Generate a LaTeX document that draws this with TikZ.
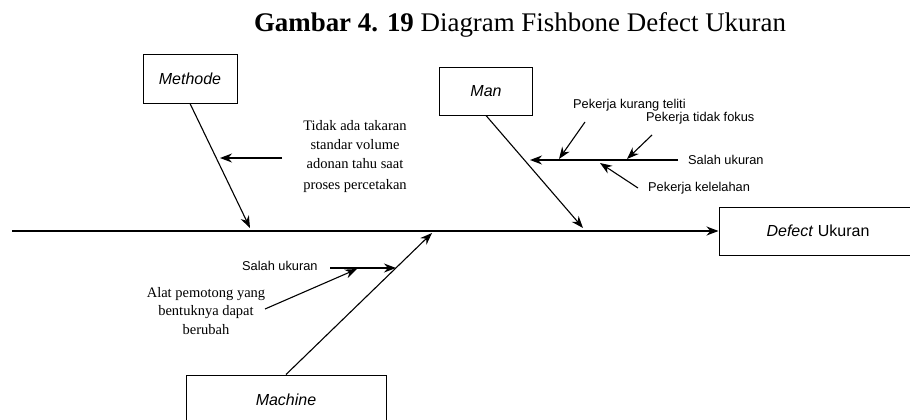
\documentclass[tikz,border=0pt]{standalone}
\usepackage{fontspec}
\setmainfont{Liberation Serif}
\setsansfont{Liberation Sans}
\usetikzlibrary{arrows.meta}

\begin{document}
\begin{tikzpicture}[x=1pt,y=-1pt,
  catbox/.style={draw, line width=1pt, inner sep=0pt,
    font=\sffamily\fontsize{16}{19}\selectfont},
  spine/.style={line width=1.5pt, -{Stealth[length=12pt,width=9pt]}},
  bone/.style={line width=1.1pt, -{Stealth[length=12pt,width=9pt]}},
  sanslabel/.style={inner sep=0pt, font=\sffamily\fontsize{12.8}{15}\selectfont},
  seriflabel/.style={inner sep=0pt, align=center, font=\fontsize{14.5}{19}\selectfont},
]
\useasboundingbox (0,0) rectangle (910,420);

% title
\node[inner sep=0pt, font=\fontsize{26.9}{30}\selectfont] (title) at (520,25)
  {\textbf{Gambar 4. 19} Diagram Fishbone Defect Ukuran};

% category boxes and the effect box
\node[catbox, minimum width=94pt, minimum height=48pt] (methode) at (190,79) {\textit{Methode}};
\node[catbox, minimum width=93pt, minimum height=47pt] (man) at (486,91.5) {\textit{Man}};
\node[catbox, minimum width=200pt, minimum height=50pt] (machine) at (286,400) {\textit{Machine}};
\node[catbox, minimum width=198pt, minimum height=48pt] (defect) at (818,231) {\textit{Defect} Ukuran};

% main spine
\coordinate (tail) at (12,231);
\draw[spine] (tail) -- (defect.west);

% main bones
\coordinate (mtip) at (250,228);
\coordinate (ntip) at (583,228);
\coordinate (ctip) at (432,233);
\draw[bone] (methode.south) -- (mtip);
\draw[bone] (man.south) -- (ntip);
\draw[bone] (machine.north) -- (ctip);

% Methode cause
\node[seriflabel] (takaran) at (355,157)
  {Tidak ada takaran\\standar volume\\adonan tahu saat\\[2pt]proses percetakan};
\coordinate (t1) at (282,158);
\coordinate (t2) at (220,158);
\draw[bone] (t1) -- (t2);

% Man causes
\node[sanslabel, anchor=west] (salah1) at (688,160) {Salah ukuran};
\node[sanslabel, anchor=west] (teliti) at (573,105) {Pekerja kurang teliti};
\node[sanslabel, anchor=west] (fokus) at (646,118) {Pekerja tidak fokus};
\node[sanslabel, anchor=west] (lelah) at (648,188) {Pekerja kelelahan};
\coordinate (s1a) at (678,160);
\coordinate (s1b) at (530,160);
\draw[bone] (s1a) -- (s1b);
\coordinate (k1) at (585,122);
\coordinate (k2) at (559,159);
\draw[bone] (k1) -- (k2);
\coordinate (f1) at (652,135);
\coordinate (f2) at (627,159);
\draw[bone] (f1) -- (f2);
\coordinate (l1) at (638,188);
\coordinate (l2) at (600,163);
\draw[bone] (l1) -- (l2);

% Machine causes
\node[sanslabel, anchor=west] (salah2) at (242,266) {Salah ukuran};
\coordinate (s2a) at (330,268);
\coordinate (s2b) at (396,268);
\draw[bone] (s2a) -- (s2b);
\node[seriflabel, font=\fontsize{14.5}{18.5}\selectfont] (alat) at (206,311)
  {Alat pemotong yang\\bentuknya dapat\\berubah};
\coordinate (a1) at (265,309);
\coordinate (a2) at (357,269);
\draw[bone] (a1) -- (a2);
\end{tikzpicture}
\end{document}
